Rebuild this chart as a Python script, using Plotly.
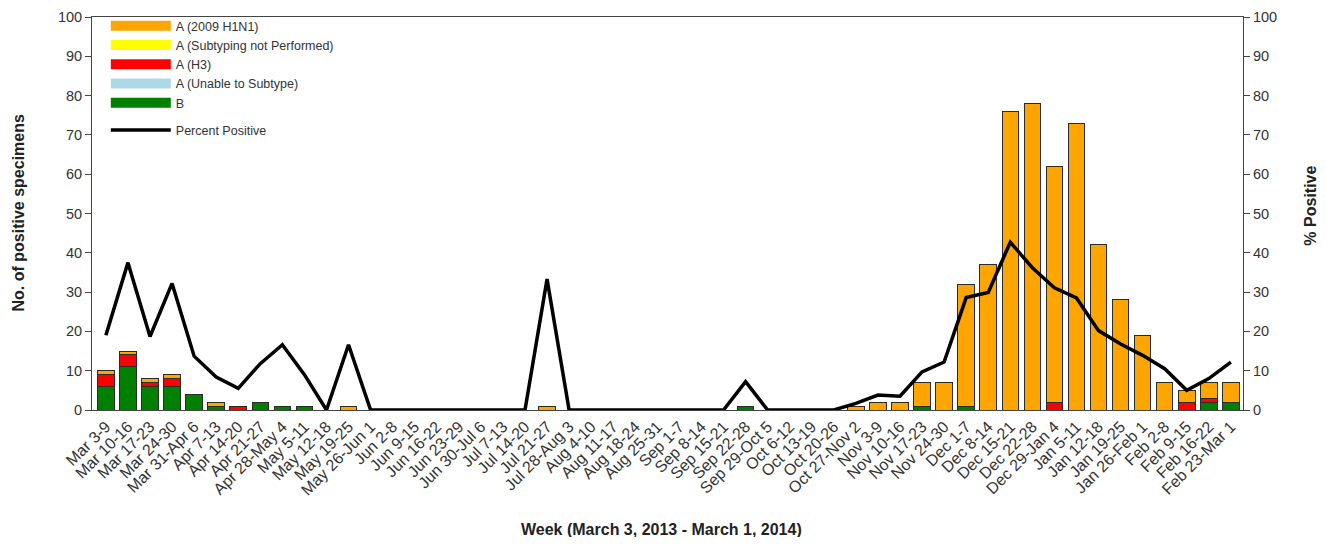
import plotly.graph_objects as go

weeks = ["Mar 3-9", "Mar 10-16", "Mar 17-23", "Mar 24-30", "Mar 31-Apr 6", "Apr 7-13",
         "Apr 14-20", "Apr 21-27", "Apr 28-May 4", "May 5-11", "May 12-18", "May 19-25",
         "May 26-Jun 1", "Jun 2-8", "Jun 9-15", "Jun 16-22", "Jun 23-29", "Jun 30-Jul 6",
         "Jul 7-13", "Jul 14-20", "Jul 21-27", "Jul 28-Aug 3", "Aug 4-10", "Aug 11-17",
         "Aug 18-24", "Aug 25-31", "Sep 1-7", "Sep 8-14", "Sep 15-21", "Sep 22-28",
         "Sep 29-Oct 5", "Oct 6-12", "Oct 13-19", "Oct 20-26", "Oct 27-Nov 2", "Nov 3-9",
         "Nov 10-16", "Nov 17-23", "Nov 24-30", "Dec 1-7", "Dec 8-14", "Dec 15-21",
         "Dec 22-28", "Dec 29-Jan 4", "Jan 5-11", "Jan 12-18", "Jan 19-25", "Jan 26-Feb 1",
         "Feb 2-8", "Feb 9-15", "Feb 16-22", "Feb 23-Mar 1"]

h1n1 = [1, 1, 1, 1, 0, 1, 0, 0, 0, 0, 0, 1, 0, 0, 0, 0, 0, 0, 0, 0, 1, 0, 0, 0, 0, 0,
        0, 0, 0, 0, 0, 0, 0, 0, 1, 2, 2, 6, 7, 31, 37, 76, 78, 60, 73, 42, 28, 19, 7, 3, 4, 5]
not_subtyped = [0] * 52
h3 = [3, 3, 1, 2, 0, 0, 1, 0, 0, 0, 0, 0, 0, 0, 0, 0, 0, 0, 0, 0, 0, 0, 0, 0, 0, 0,
      0, 0, 0, 0, 0, 0, 0, 0, 0, 0, 0, 0, 0, 0, 0, 0, 0, 2, 0, 0, 0, 0, 0, 2, 1, 0]
unable = [0] * 52
b = [6, 11, 6, 6, 4, 1, 0, 2, 1, 1, 0, 0, 0, 0, 0, 0, 0, 0, 0, 0, 0, 0, 0, 0, 0, 0,
     0, 0, 0, 1, 0, 0, 0, 0, 0, 0, 0, 1, 0, 1, 0, 0, 0, 0, 0, 0, 0, 0, 0, 0, 2, 2]
pct_pos = [19, 37.5, 18.7, 32.2, 13.7, 8.4, 5.5, 11.8, 16.6, 9, 0, 16.6, 0, 0, 0, 0, 0, 0,
           0, 0, 33.3, 0, 0, 0, 0, 0, 0, 0, 0, 7.2, 0, 0, 0, 0, 1.7, 3.8, 3.5, 9.7, 12.2,
           28.6, 29.9, 42.7, 36.2, 31.1, 28.5, 20.2, 16.8, 13.9, 10.5, 5.0, 8.0, 12.2]

y_ticks = list(range(0, 101, 10))

FONT = "Liberation Sans, Arial, sans-serif"
x = list(range(len(weeks)))

fig = go.Figure()
bar_series = [
    ("B", b, "#008000", 5),
    ("A (Unable to Subtype)", unable, "#ADD8E6", 4),
    ("A (H3)", h3, "#FF0000", 3),
    ("A (Subtyping not Performed)", not_subtyped, "#FFFF00", 2),
    ("A (2009 H1N1)", h1n1, "#FFA500", 1),
]
for name, vals, col, rank in bar_series:
    fig.add_trace(go.Bar(
        x=x, y=vals, name=name, marker=dict(color=col, line=dict(color="#2b2b2b", width=1)),
        width=0.75, showlegend=False,
    ))
    # legend swatch (wide rectangle, like the original legend)
    fig.add_trace(go.Scatter(
        x=[None], y=[None], name=name, mode="lines",
        line=dict(color=col, width=10), legendgroup="bars", legendrank=rank,
    ))
fig.add_trace(go.Scatter(
    x=x, y=pct_pos, name="Percent Positive", mode="lines",
    line=dict(color="black", width=3.5), yaxis="y2", legendgroup="line", legendrank=6,
))

axis_col = "#444444"
title_font = dict(family=FONT, size=16, color="#222222")
# Figure is placed at (8,8) in the page due to default body margin
fig.update_layout(
    width=1311, height=529,
    margin=dict(l=84, r=76, t=9, b=127, autoexpand=False),
    paper_bgcolor="white", plot_bgcolor="white",
    barmode="stack", bargap=0.25,
    font=dict(family=FONT, size=14, color="#333333"),
    showlegend=True,
    legend=dict(x=0.012, y=1.015, xanchor="left", yanchor="top", traceorder="grouped",
                tracegroupgap=8, font=dict(size=12.5, color="#333333"),
                bgcolor="rgba(0,0,0,0)", itemwidth=60),
    xaxis=dict(
        range=[-0.63, 51.55], tickmode="array", tickvals=x, ticktext=weeks,
        tickangle=-45, tickfont=dict(size=16, color="#333333"),
        showline=True, linecolor=axis_col, linewidth=1, mirror=True,
        ticks="", showgrid=False, zeroline=False, automargin=False,
    ),
    yaxis=dict(
        range=[0, 100], tickvals=y_ticks, ticks="outside", ticklen=6, tickcolor=axis_col,
        showline=True, linecolor=axis_col, linewidth=1, showgrid=False, zeroline=False,
        tickfont=dict(size=14.5, color="#333333"), automargin=False, ticklabeloverflow="allow",
    ),
    yaxis2=dict(
        range=[0, 100], tickvals=y_ticks, ticks="outside", ticklen=6, tickcolor=axis_col,
        overlaying="y", side="right", automargin=False, ticklabeloverflow="allow",
        showline=True, linecolor=axis_col, linewidth=1, showgrid=False, zeroline=False,
        tickfont=dict(size=14.5, color="#333333"),
    ),
    annotations=[
        dict(text="<b>Week (March 3, 2013 - March 1, 2014)</b>", xref="paper", yref="paper",
             x=0.495, y=-0.303, xanchor="center", yanchor="middle", showarrow=False,
             font=title_font),
        dict(text="<b>No. of positive specimens</b>", xref="paper", yref="paper",
             x=0, y=0.5, xshift=-74, xanchor="center", yanchor="middle", textangle=-90,
             showarrow=False, font=title_font),
        dict(text="<b>% Positive</b>", xref="paper", yref="paper",
             x=1, y=0.52, xshift=68, xanchor="center", yanchor="middle", textangle=-90,
             showarrow=False, font=title_font),
    ],
)

fig.write_html("out.html")
